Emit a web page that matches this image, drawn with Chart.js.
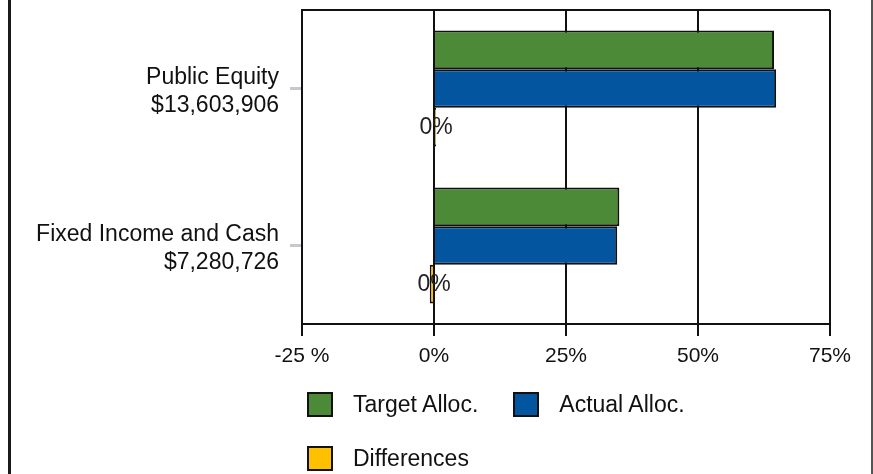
<!DOCTYPE html>
<html>
<head>
<meta charset="utf-8">
<script src="https://cdn.jsdelivr.net/npm/chart.js@4.4.1/dist/chart.umd.min.js"></script>
<style>
  body { margin: 0; background: #fff; }
  #wrap { position: relative; width: 873px; height: 474px; overflow: hidden; }
  #edgeL { position: absolute; left: 8px; top: 0; width: 3px; height: 474px; background: #1a1a1a; }
  #edgeR { position: absolute; left: 871px; top: 0; width: 2px; height: 474px; background: #555; }
  #legend { position: absolute; left: 307px; top: 392px; width: 523px; display: flex; flex-wrap: wrap;
            font: 23px 'Liberation Sans', Arial, sans-serif; color: #111; }
  .item { display: flex; align-items: center; height: 25px; margin-right: 35px; margin-bottom: 29px; }
  .box { width: 22px; height: 21px; border: 2px solid #111; margin-right: 20px; }
</style>
</head>
<body>
<div id="wrap">
  <canvas id="myChart" width="873" height="474"></canvas>
  <div id="edgeL"></div>
  <div id="edgeR"></div>
  <div id="legend"></div>
</div>
<script>
// values
const categories = [['Public Equity', '$13,603,906'], ['Fixed Income and Cash', '$7,280,726']];
const targetAlloc = [64.4, 35.1];
const actualAlloc = [64.8, 34.7];
const differences = [0.4, -0.8];
const xTickLabels = ['-25 %', '0%', '25%', '50%', '75%'];
const seriesNames = ['Target Alloc.', 'Actual Alloc.', 'Differences'];
const seriesColors = ['#4c8a37', '#0455a0', '#ffc000'];

const font = "'Liberation Sans', Arial, sans-serif";

// top border of the plot + "0%" labels on the differences bars
const extras = {
  id: 'extras',
  afterDraw(chart) {
    const ctx = chart.ctx;
    const a = chart.chartArea;
    ctx.save();
    ctx.strokeStyle = '#111';
    ctx.lineWidth = 2;
    ctx.beginPath();
    ctx.moveTo(a.left, a.top);
    ctx.lineTo(a.right, a.top);
    ctx.stroke();

    const meta = chart.getDatasetMeta(2);
    ctx.fillStyle = '#222';
    ctx.font = '23px ' + font;
    ctx.textAlign = 'center';
    ctx.textBaseline = 'middle';
    meta.data.forEach((bar, i) => {
      let v = Math.trunc(differences[i]);
      if (v === 0) v = 0;
      ctx.fillText(v + '%', bar.base + 1, bar.y);
    });
    ctx.restore();
  }
};

let myChart = document.getElementById('myChart').getContext('2d');
let allocChart = new Chart(myChart, {
  type: 'bar',
  data: {
    labels: categories,
    datasets: [
      { label: seriesNames[0], data: targetAlloc, backgroundColor: seriesColors[0], borderColor: '#111', borderWidth: 2 },
      { label: seriesNames[1], data: actualAlloc, backgroundColor: seriesColors[1], borderColor: '#111', borderWidth: 2 },
      { label: seriesNames[2], data: differences, backgroundColor: seriesColors[2], borderColor: '#111', borderWidth: 2 }
    ]
  },
  options: {
    indexAxis: 'y',
    responsive: false,
    animation: false,
    categoryPercentage: 0.74,
    barPercentage: 1.0,
    layout: { padding: { top: 10, right: 43, bottom: 100, left: 0 } },
    scales: {
      x: {
        min: -25,
        max: 75,
        ticks: {
          stepSize: 25,
          color: '#111',
          padding: 8,
          font: { size: 21, family: font },
          callback: (v, i) => xTickLabels[i]
        },
        grid: { color: '#111', lineWidth: 2, tickLength: 12 },
        border: { color: '#111', width: 2 },
        afterFit: (s) => { s.height = 50; }
      },
      y: {
        ticks: {
          color: '#111',
          padding: 11,
          labelOffset: 3,
          font: { size: 23, family: font }
        },
        grid: { drawOnChartArea: false, offset: false, tickLength: 12, tickColor: '#c5c9cd', lineWidth: 3 },
        border: { color: '#111', width: 2 },
        afterFit: (s) => { s.width = 302; s.paddingTop = 0; s.paddingBottom = 0; }
      }
    },
    plugins: {
      legend: { display: false },
      tooltip: { enabled: false }
    }
  },
  plugins: [extras]
});

// legend built from the datasets
const legendEl = document.getElementById('legend');
allocChart.data.datasets.forEach((ds) => {
  const item = document.createElement('div');
  item.className = 'item';
  const box = document.createElement('div');
  box.className = 'box';
  box.style.background = ds.backgroundColor;
  const txt = document.createElement('span');
  txt.textContent = ds.label;
  item.appendChild(box);
  item.appendChild(txt);
  legendEl.appendChild(item);
});
</script>
</body>
</html>
